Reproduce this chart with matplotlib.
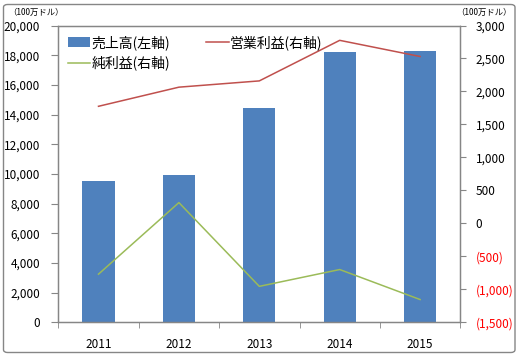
import matplotlib
matplotlib.use("Agg")
import matplotlib.pyplot as plt
from matplotlib.patches import FancyBboxPatch
from matplotlib.ticker import FuncFormatter, MultipleLocator, FixedLocator

plt.rcParams['font.family'] = ['Noto Sans CJK JP', 'DejaVu Sans']

years = ["2011", "2012", "2013", "2014", "2015"]
sales = [9500, 9900, 14450, 18200, 18300]          # 売上高 (左軸)
op_income = [1775, 2065, 2160, 2775, 2530]         # 営業利益 (右軸)
net_income = [-770, 315, -955, -700, -1155]        # 純利益 (右軸)

GRAY = "#868686"
W, H = 520, 358

fig = plt.figure(figsize=(W / 100, H / 100), dpi=100)
fig.patch.set_facecolor("white")

# outer chart border
fig.patches.append(FancyBboxPatch((3.5 / W, 5.5 / H), 511.5 / W, 348 / H,
                                  boxstyle="round,pad=0,rounding_size=0.008",
                                  transform=fig.transFigure, fill=False,
                                  edgecolor=GRAY, linewidth=1.0))

ax = fig.add_axes([58.3 / W, (H - 322.3) / H, 402 / W, 296.8 / H])
x = list(range(len(years)))
bars = ax.bar(x, sales, width=0.4, color="#4F81BD", zorder=2)
ax.set_xlim(-0.5, 4.5)
ax.set_ylim(0, 20000)
ax.yaxis.set_major_locator(MultipleLocator(2000))
ax.yaxis.set_major_formatter(FuncFormatter(lambda v, p: f"{v:,.0f}"))
ax.set_xticks(x)
ax.set_xticklabels(years)
ax.xaxis.set_minor_locator(FixedLocator([i - 0.5 for i in range(len(years) + 1)]))
ax.tick_params(axis="x", which="major", length=0, pad=11, labelsize=8.5)
ax.tick_params(axis="x", which="minor", length=4, color=GRAY, direction="out")
ax.tick_params(axis="y", length=5, color=GRAY, pad=8, labelsize=8.5)
for s in ax.spines.values():
    s.set_color(GRAY)
    s.set_linewidth(0.9)

ax2 = ax.twinx()
l1, = ax2.plot(x, op_income, color="#C0504D", linewidth=1.1)
l2, = ax2.plot(x, net_income, color="#9BBB59", linewidth=1.1)
ax2.set_ylim(-1500, 3000)
ax2.yaxis.set_major_locator(MultipleLocator(500))
ax2.yaxis.set_major_formatter(FuncFormatter(
    lambda v, p: f"({abs(v):,.0f})" if v < 0 else f"{v:,.0f}"))
ax2.tick_params(axis="y", length=4, color=GRAY, pad=7, labelsize=8.5)
for s in ax2.spines.values():
    s.set_color(GRAY)
    s.set_linewidth(0.9)
fig.canvas.draw()
for lab, val in zip(ax2.get_yticklabels(), ax2.get_yticks()):
    lab.set_color("#FF0000" if val < 0 else "black")

# legend filled column-wise: 売上高 / 純利益 in column 1, 営業利益 in column 2
ax2.legend([bars, l2, l1], ["売上高(左軸)", "純利益(右軸)", "営業利益(右軸)"],
           loc="upper left", bbox_to_anchor=(0.0, 1.0), ncol=2, frameon=False,
           fontsize=10, handlelength=1.6, handletextpad=0.1,
           columnspacing=2.6, labelspacing=0.4, borderaxespad=0.3)

fig.text(8 / W, 1 - 12 / H, "（100万ドル）", fontsize=6, va="center", ha="left")
fig.text(512 / W, 1 - 12 / H, "（100万ドル）", fontsize=6, va="center", ha="right")

fig.savefig("out.png", dpi=100)
